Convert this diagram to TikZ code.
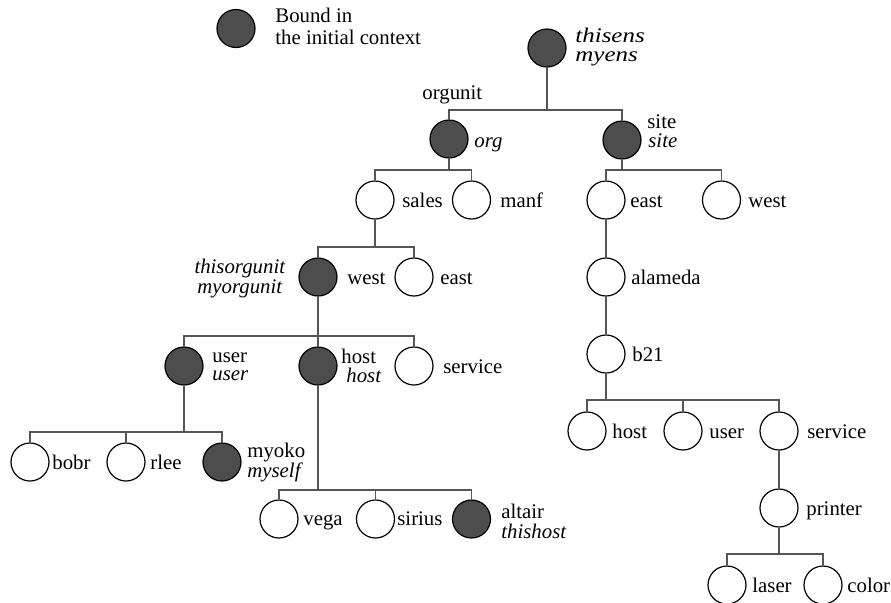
\documentclass[tikz,border=0pt]{standalone}
\usepackage{fontspec}
\setmainfont{Liberation Serif}
\definecolor{nodefill}{RGB}{77,77,77}
\definecolor{edgecol}{RGB}{85,85,85}
\begin{document}
\begin{tikzpicture}[x=0.5pt,y=-0.5pt,
  every node/.style={font=\fontsize{10.4}{12}\selectfont},
  dot/.style={circle,draw=black,line width=0.6pt,minimum size=19pt,inner sep=0pt},
  full/.style={dot,fill=nodefill},
  open/.style={dot,fill=white},
  lab/.style={anchor=base west,inner sep=0pt},
  edge/.style={draw=edgecol,line width=0.7pt}]
\useasboundingbox (0,0) rectangle (891,602);

% legend
\node[full] (leg) at (236,28.5) {};
\node[lab] (leg1) at (275,22.5) {Bound in};
\node[lab] (leg2) at (275,44.5) {the initial context};

% root
\node[full] (root) at (547,48) {};
\node[lab] (root1) at (575,42) {\scalebox{1.2}[1]{\textit{thisens}}};
\node[lab] (root2) at (575,61) {\scalebox{1.2}[1]{\textit{myens}}};
\node[lab] (orgunit) at (422,99) {orgunit};

% level 1
\node[full] (org) at (449,139) {};
\node[lab] (torg) at (474,147) {\textit{org}};
\node[full] (site) at (622,140) {};
\node[lab] (tsite1) at (647,128) {site};
\node[lab] (tsite2) at (648,147) {\textit{site}};

% org subtree
\node[open] (sales) at (375,200) {};
\node[lab] (tsales) at (402,207) {sales};
\node[open] (manf) at (471.5,200) {};
\node[lab] (tmanf) at (500,207) {manf};

\node[full] (westo) at (318,277) {};
\node[lab] (twesto) at (347,284) {west};
\node[anchor=base,inner sep=0pt] (tthisorg) at (240,273) {\textit{thisorgunit}};
\node[anchor=base,inner sep=0pt] (tmyorg) at (240,293) {\textit{myorgunit}};
\node[open] (easto) at (414,277) {};
\node[lab] (teasto) at (440,284) {east};

\node[full] (user) at (184,366) {};
\node[lab] (tuser1) at (212,362) {user};
\node[lab] (tuser2) at (212,380) {\textit{user}};
\node[full] (host) at (318,366) {};
\node[lab] (thost1) at (341,363) {host};
\node[lab] (thost2) at (346,382) {\textit{host}};
\node[open] (service) at (414,366) {};
\node[lab] (tservice) at (443,373) {service};

\node[open] (bobr) at (30,462) {};
\node[lab] (tbobr) at (52,469) {bobr};
\node[open] (rlee) at (126,462) {};
\node[lab] (trlee) at (150,469) {rlee};
\node[full] (myoko) at (222,462) {};
\node[lab] (tmyoko1) at (247,457) {myoko};
\node[lab] (tmyoko2) at (247,477) {\textit{myself}};

\node[open] (vega) at (279,519) {};
\node[lab] (tvega) at (303,525) {vega};
\node[open] (sirius) at (375.5,519) {};
\node[lab] (tsirius) at (397,525) {sirius};
\node[full] (altair) at (471.5,519) {};
\node[lab] (taltair1) at (501,518) {altair};
\node[lab] (taltair2) at (501,538) {\textit{thishost}};

% site subtree
\node[open] (easts) at (606,200) {};
\node[lab] (teasts) at (630,207) {east};
\node[open] (wests) at (721.5,200) {};
\node[lab] (twests) at (748,207) {west};
\node[open] (alameda) at (606,277) {};
\node[lab] (talameda) at (631,284) {alameda};
\node[open] (b21) at (606,354) {};
\node[lab] (tb21) at (632,361) {b21};
\node[open] (hostb) at (587,431) {};
\node[lab] (thostb) at (612,438) {host};
\node[open] (userb) at (683,431) {};
\node[lab] (tuserb) at (709,438) {user};
\node[open] (serviceb) at (779,431) {};
\node[lab] (tserviceb) at (807,438) {service};
\node[open] (printer) at (779,508) {};
\node[lab] (tprinter) at (806,515) {printer};
\node[open] (laser) at (727,585) {};
\node[lab] (tlaser) at (752,592) {laser};
\node[open] (color) at (823,585) {};
\node[lab] (tcolor) at (847,592) {color};

% bar levels
\coordinate (broot) at (0,110);
\coordinate (borg) at (0,170);
\coordinate (bsales) at (0,247);
\coordinate (bwest) at (0,336);
\coordinate (buser) at (0,432);
\coordinate (bhost) at (0,490);
\coordinate (bsite) at (0,170);
\coordinate (bb21) at (0,400);
\coordinate (bprinter) at (0,554);

\foreach \p/\b/\c in {root/broot/org, root/broot/site,
    org/borg/sales, org/borg/manf,
    sales/bsales/westo, sales/bsales/easto,
    westo/bwest/user, westo/bwest/host, westo/bwest/service,
    user/buser/bobr, user/buser/rlee, user/buser/myoko,
    host/bhost/vega, host/bhost/sirius, host/bhost/altair,
    site/bsite/easts, site/bsite/wests,
    b21/bb21/hostb, b21/bb21/userb, b21/bb21/serviceb,
    printer/bprinter/laser, printer/bprinter/color}
  \draw[edge] (\p.south) -- (\p.south |- \b) -| (\c.north);
\draw[edge] (easts.south) -- (alameda.north);
\draw[edge] (alameda.south) -- (b21.north);
\draw[edge] (serviceb.south) -- (printer.north);
\end{tikzpicture}
\end{document}
